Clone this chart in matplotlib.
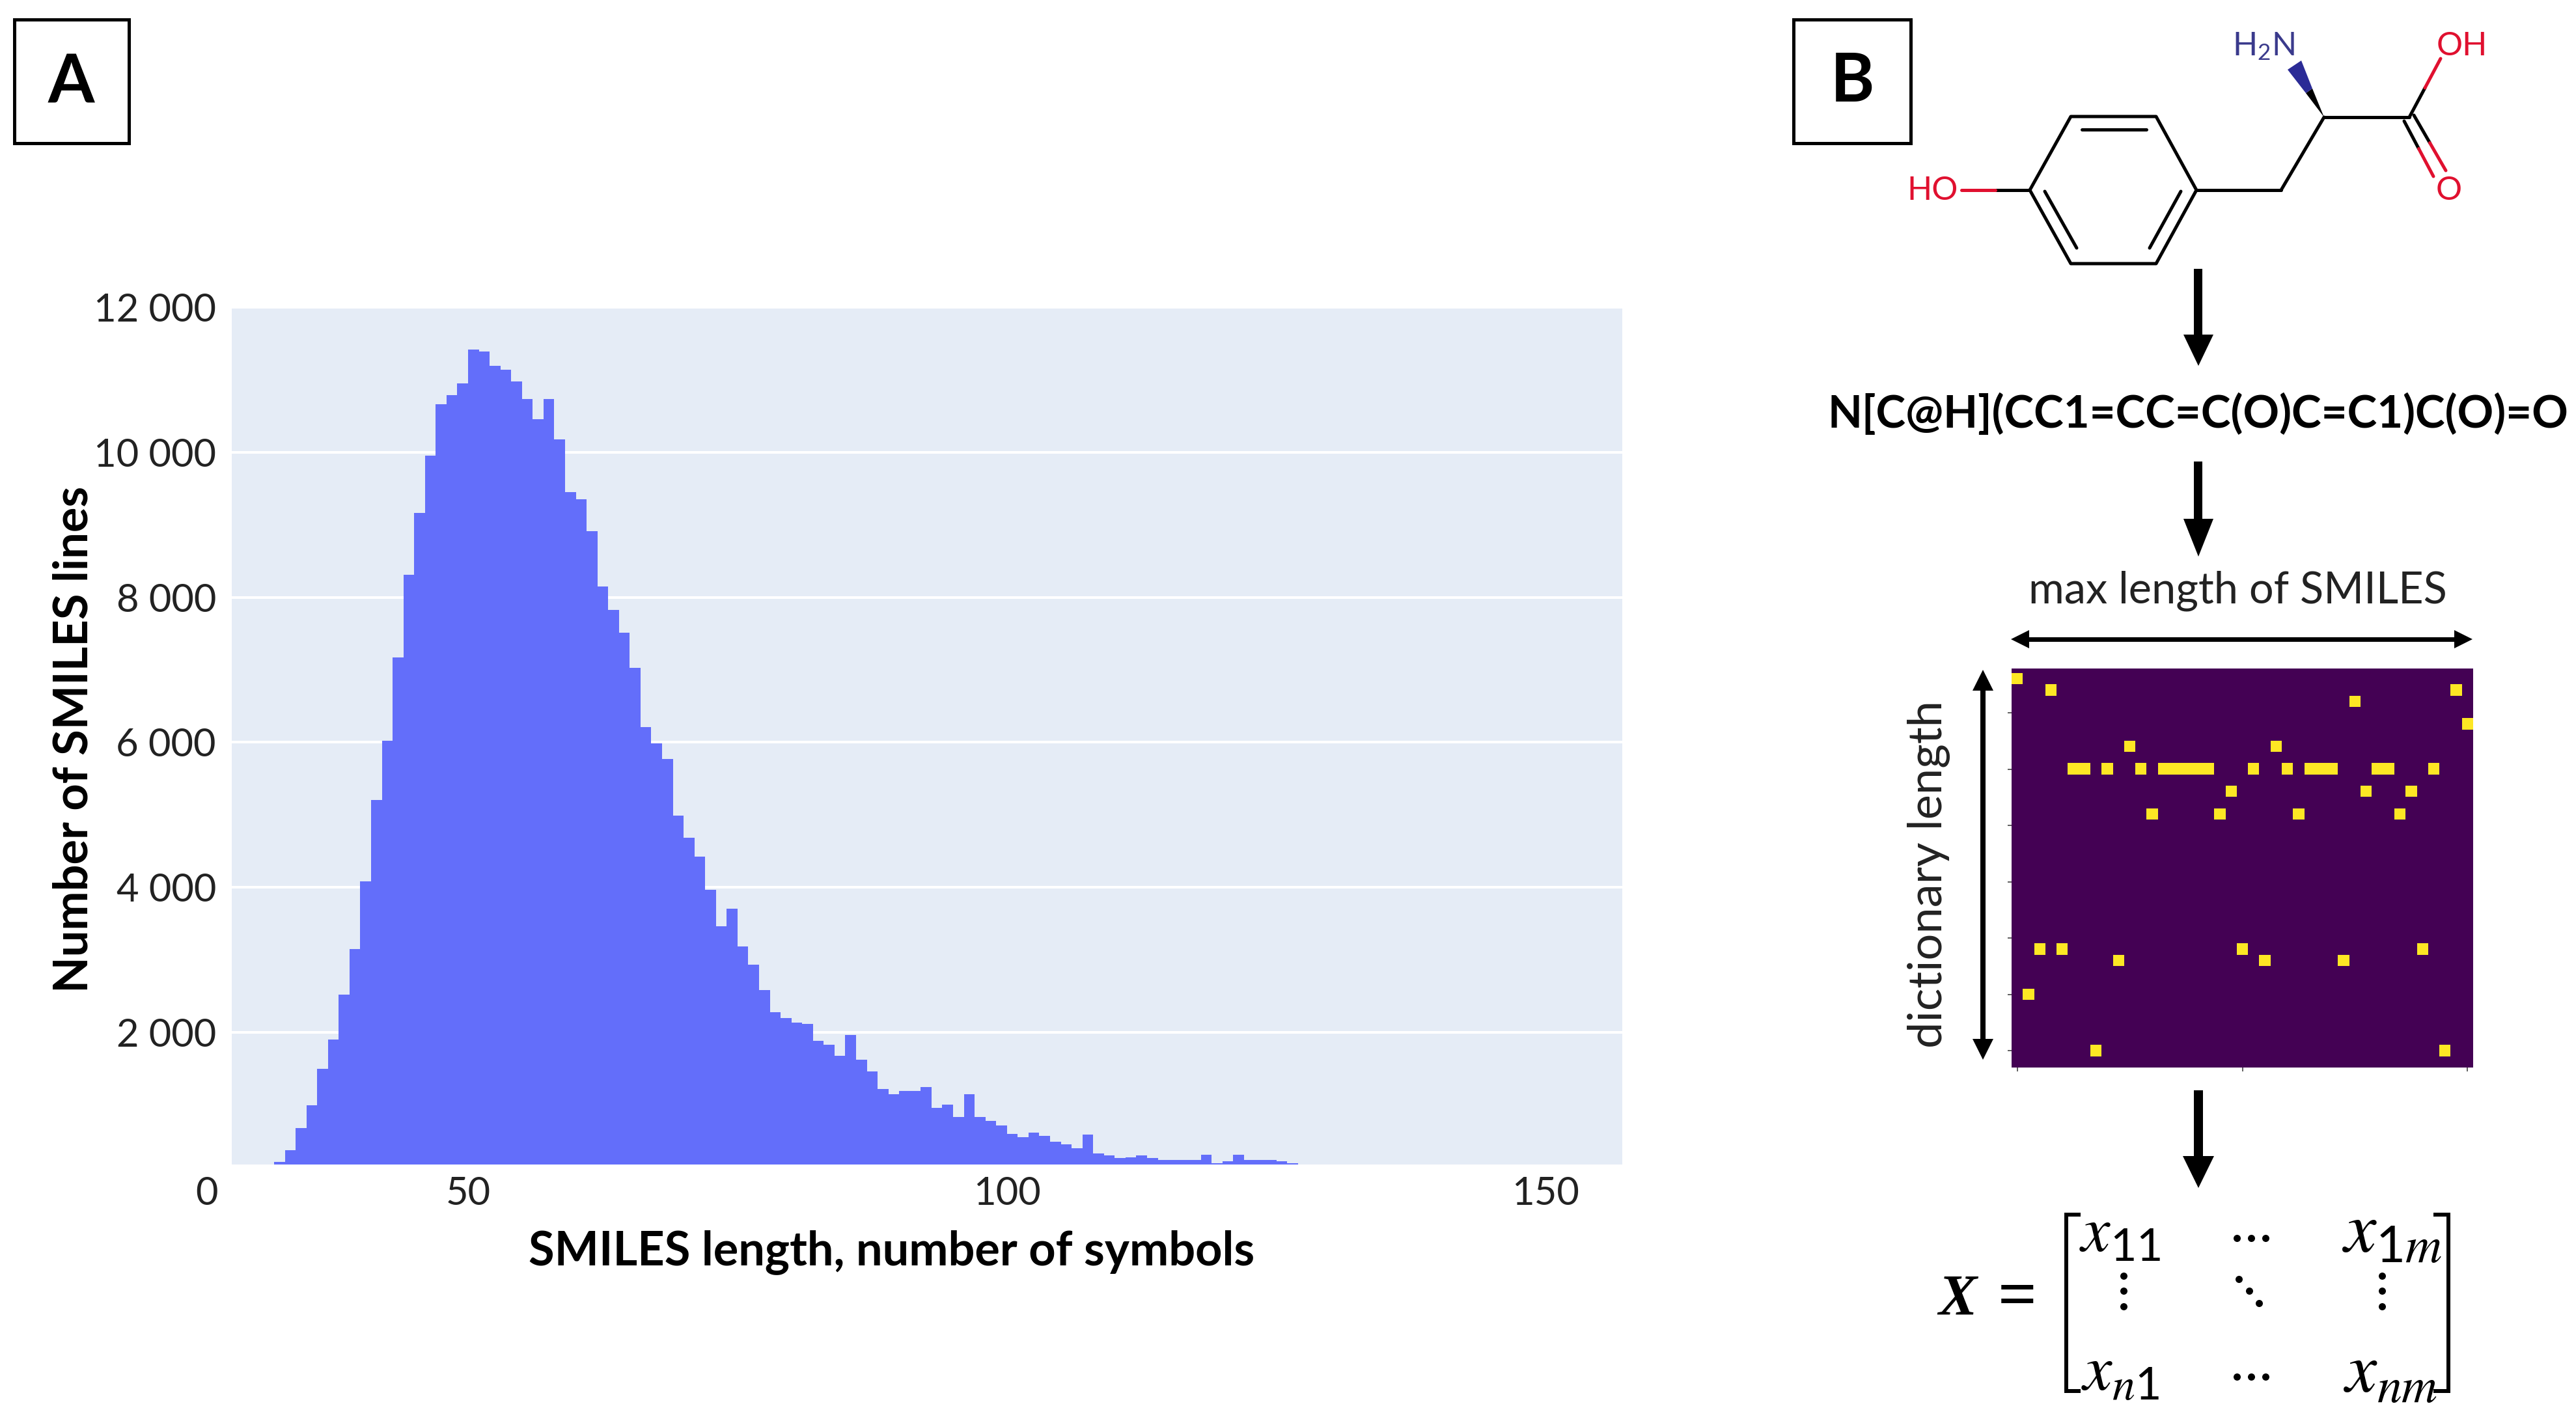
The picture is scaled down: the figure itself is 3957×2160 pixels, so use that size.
import numpy as np
import matplotlib
matplotlib.use("Agg")
import matplotlib.pyplot as plt

W, H = 3957, 2160

plt.rcParams['font.family'] = ['Lato', 'DejaVu Sans']
plt.rcParams['mathtext.default'] = 'regular'

# panel A, histogram of SMILES lengths, one bin per symbol starting at 32
first_length = 32
counts = [213, 373, 678, 998, 1495, 1904, 2521, 3146, 4083, 5205, 6023, 7168, 8314, 9164,
          9949, 10662, 10790, 10951, 11416, 11391, 11191, 11135, 10975, 10735, 10454, 10735,
          10174, 9452, 9356, 8915, 8146, 7825, 7513, 7024, 6207, 5982, 5766, 4989, 4684,
          4428, 3963, 3466, 3707, 3186, 2938, 2585, 2280, 2200, 2136, 2120, 1880, 1832, 1679,
          1966, 1621, 1466, 1219, 1150, 1190, 1190, 1248, 961, 1001, 835, 1150, 835, 777, 714,
          599, 559, 617, 576, 490, 456, 398, 588, 330, 301, 272, 278, 307, 272, 238, 243, 243,
          243, 312, 197, 226, 312, 238, 238, 238, 220, 195]
y_ticks = [2000, 4000, 6000, 8000, 10000, 12000]
y_tick_labels = ['2 000', '4 000', '6 000', '8 000', '10 000', '12 000']
x_ticks = [50, 100, 150]

# panel B, one-hot matrix: row of the yellow cell in each column
onehot_rows = [1, 29, 25, 2, 25, 9, 9, 34, 9, 26, 7, 9, 13, 9, 9, 9, 9, 9, 13, 11, 25, 9, 26, 7,
               9, 13, 9, 9, 9, 26, 3, 11, 9, 9, 13, 11, 25, 9, 34, 2, 5]
n_rows = 36

smiles = 'N[C@H](CC1=CC=C(O)C=C1)C(O)=O'
bar_color = '#636efa'
bg_color = '#e5ecf6'
red = '#e0102f'
navy = '#2b2b96'


def px_axes(left, top, right, bottom):
    return fig.add_axes([left / W, 1 - bottom / H, (right - left) / W, (bottom - top) / H])


def pt(px):
    return px * 0.72


def arrow_down(x, y0, y1, head_start, head_half, shaft):
    over.fill([x - shaft / 2, x + shaft / 2, x + shaft / 2, x - shaft / 2],
              [y0, y0, head_start, head_start], color='k', lw=0)
    over.fill([x - head_half, x + head_half, x], [head_start, head_start, y1], color='k', lw=0)


def bond(p0, p1, color='k', lw=5):
    over.plot([p0[0], p1[0]], [p0[1], p1[1]], color=color, lw=pt(lw), solid_capstyle='round')


def hetero_bond(p0, p1, color):
    # black half from the carbon, coloured half towards the hetero atom
    mid = ((p0[0] + p1[0]) / 2, (p0[1] + p1[1]) / 2)
    bond(p0, mid)
    bond(mid, p1, color)


fig = plt.figure(figsize=(W / 100, H / 100), dpi=100, facecolor='white')

# ---- panel A
ax = px_axes(356, 470, 2492, 1789)
ax.set_facecolor(bg_color)
edges = np.arange(first_length, first_length + len(counts) + 1)
ax.stairs(counts, edges, fill=True, color=bar_color, baseline=0, zorder=3)
ax.set_xlim(28.07, 157.1)
ax.set_ylim(178, 12018)
ax.set_yticks(y_ticks)
ax.set_yticklabels(y_tick_labels)
ax.set_xticks(x_ticks)
ax.grid(axis='y', color='white', lw=pt(4), zorder=1)
ax.set_axisbelow(True)
ax.tick_params(axis='both', length=0, labelsize=43, labelcolor='#222222')
ax.tick_params(axis='y', pad=pt(24))
ax.tick_params(axis='x', pad=pt(18))
for s in ax.spines.values():
    s.set_visible(False)
ax.set_xlabel('SMILES length, number of symbols', fontsize=52, fontweight='bold', va='center')
ax.xaxis.set_label_coords(0.4747, -0.1017)
ax.set_ylabel('Number of SMILES lines', fontsize=52, fontweight='bold', va='center')
ax.yaxis.set_label_coords(-0.1135, 0.495)

# ---- panel B matrix
mat = np.zeros((n_rows, len(onehot_rows)))
mat[onehot_rows, np.arange(len(onehot_rows))] = 1
hm = px_axes(3090, 1027, 3799, 1640)
hm.imshow(mat, cmap='viridis', aspect='auto', interpolation='nearest')
hm.set_ylim(n_rows - 0.5, 0.04)
hm.set_xticks([0, 20, 40])
hm.set_yticks([4, 9, 14, 19, 24, 29, 34])
hm.tick_params(length=4, width=1.2, color='#444444', labelbottom=False, labelleft=False)
for s in hm.spines.values():
    s.set_visible(False)

# ---- everything else sits on a full figure layer in pixel units
over = fig.add_axes([0, 0, 1, 1])
over.set_xlim(0, W)
over.set_ylim(H, 0)
over.axis('off')
over.patch.set_alpha(0)

over.text(318, 1834, '0', fontsize=43, color='#222222', ha='center', va='center')

# panel letters
for x0, x1, y0, y1, letter, lx, ly in [(22, 198, 30, 220, 'A', 109, 127),
                                       (2755, 2935, 30, 220, 'B', 2846, 126)]:
    over.plot([x0, x1, x1, x0, x0], [y0, y0, y1, y1, y0], color='k', lw=pt(5),
              solid_joinstyle='miter')
    over.text(lx, ly, letter, fontsize=74, fontweight='bold', ha='center', va='center')

# tyrosine
ring = [(3118, 292), (3181, 179), (3312, 179), (3374, 292), (3312, 405), (3181, 405), (3118, 292)]
over.plot([p[0] for p in ring], [p[1] for p in ring], color='k', lw=pt(5), solid_joinstyle='round')
bond((3198, 199), (3297, 199))
bond((3141, 294), (3190, 381))
bond((3350, 294), (3302, 381))
bond((3374, 292), (3504, 292))
bond((3504, 292), (3570, 180))
bond((3570, 180), (3701, 180))
hetero_bond((3701, 180), (3749, 90), red)
hetero_bond((3693, 186), (3738, 271), red)
hetero_bond((3708, 177), (3757, 262), red)
hetero_bond((3118, 292), (3013, 292), red)
over.fill([3570, 3552, 3542], [180, 136, 143], color='k', lw=0)
over.fill([3552, 3535, 3514, 3542], [136, 93, 107, 143], color=navy, lw=0)
over.text(3477, 71, 'H$_2$N', fontsize=36, color='#3a3a8c', ha='center', va='center')
over.text(3782, 71, 'OH', fontsize=36, color=red, ha='center', va='center')
over.text(3762, 293, 'O', fontsize=36, color=red, ha='center', va='center')
over.text(2969, 293, 'HO', fontsize=36, color=red, ha='center', va='center')

arrow_down(3377, 413, 562, 514, 23, 13)
over.text(3376, 636, smiles, fontsize=49.6, fontweight='bold', ha='center', va='center')
arrow_down(3377, 709, 855, 797, 23, 13)
arrow_down(3377, 1675, 1825, 1776, 24, 14)

# size arrows round the matrix
over.text(3437, 908, 'max length of SMILES', fontsize=48, ha='center', va='center', color='#222222')
over.plot([3110, 3780], [982, 982], color='k', lw=pt(7))
over.fill([3089, 3117, 3117], [982, 968, 996], color='k', lw=0)
over.fill([3798, 3770, 3770], [982, 968, 996], color='k', lw=0)
over.text(2963, 1343, 'dictionary length', fontsize=52, rotation=90, ha='center', va='center',
          color='#222222')
over.plot([3046, 3046], [1050, 1610], color='k', lw=pt(8))
over.fill([3046, 3030, 3062], [1029, 1061, 1061], color='k', lw=0)
over.fill([3046, 3030, 3062], [1628, 1596, 1596], color='k', lw=0)

# matrix formula
over.text(3007, 1997, 'X', fontsize=64, family='Liberation Serif', fontweight='bold',
          style='italic', ha='center', va='center')
over.text(3099, 1997, '=', fontsize=76, family='Liberation Serif', fontweight='bold',
          ha='center', va='center')
over.plot([3193, 3174, 3174, 3193], [1866, 1866, 2137, 2137], color='k', lw=pt(6),
          solid_joinstyle='miter')
over.plot([3741, 3761, 3761, 3741], [1866, 1866, 2137, 2137], color='k', lw=pt(6),
          solid_joinstyle='miter')
for label, cx, cy, size in [(r'$\mathit{x}_{11}$', 3257, 1894, 72),
                            (r'$\mathit{x}_{1\mathit{m}}$', 3674, 1894, 80),
                            (r'$\mathit{x}_{\mathit{n}1}$', 3257, 2108, 72),
                            (r'$\mathit{x}_{\mathit{n}\mathit{m}}$', 3672, 2108, 78)]:
    over.text(cx, cy, label, fontsize=size, math_fontfamily='stix', ha='center', va='center')
dots_x = [3436, 3458, 3480, 3436, 3458, 3480, 3262, 3262, 3262, 3439, 3455, 3470, 3659, 3659, 3659]
dots_y = [1902, 1902, 1902, 2115, 2115, 2115, 1960, 1983, 2007, 1965, 1983, 2002, 1960, 1983, 2007]
over.scatter(dots_x, dots_y, s=pt(11) ** 2, color='k', lw=0)

fig.savefig('out.png', dpi=100, facecolor='white')
